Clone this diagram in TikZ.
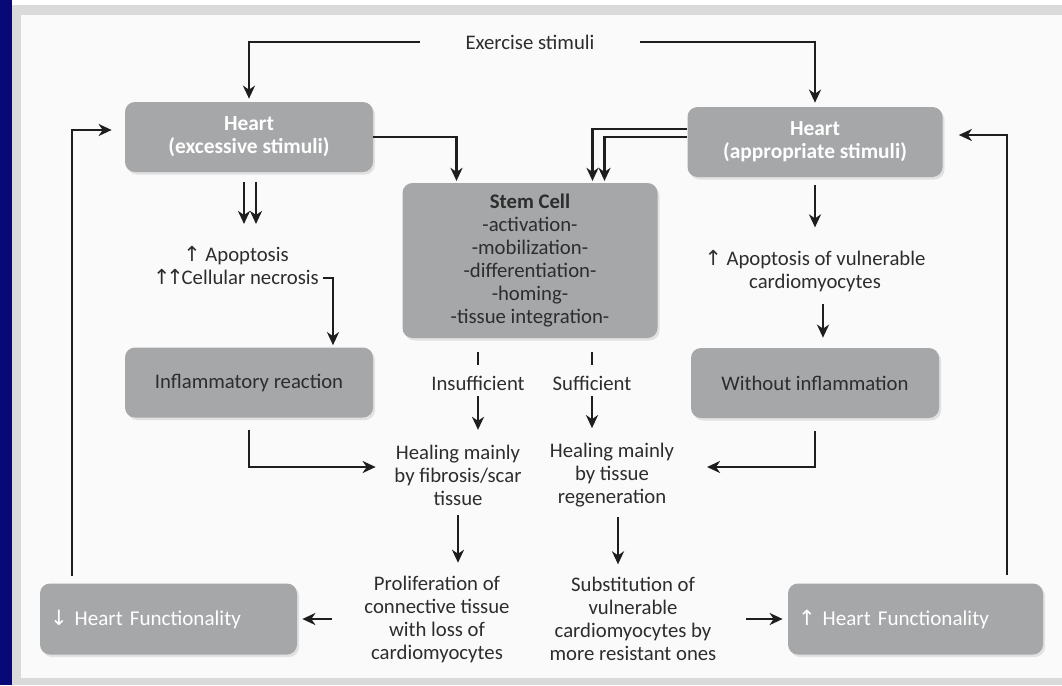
\documentclass[tikz,border=0pt]{standalone}
\usepackage{fontspec}
\setmainfont{Carlito}
\newfontfamily\arrowfont{DejaVu Sans}
\usetikzlibrary{positioning,arrows.meta,shadows}

\definecolor{boxgray}{RGB}{166,167,169}
\definecolor{txtgray}{RGB}{45,45,45}
\definecolor{linegray}{RGB}{30,30,30}
\definecolor{framegray}{RGB}{218,218,218}
\definecolor{panel}{RGB}{250,250,250}
\definecolor{navy}{RGB}{8,8,118}
\newcommand{\arrup}{{\arrowfont ↑}}
\newcommand{\arrdown}{{\arrowfont ↓}}

\begin{document}
\begin{tikzpicture}[shorten >= 1pt, on grid, auto,
    font=\fontsize{11.8}{13.1}\selectfont,
    box/.style={rectangle, rounded corners=0.2cm, fill=boxgray, align=center,
      minimum width=4.96cm, minimum height=1.4cm,
      drop shadow={shadow xshift=0.04cm, shadow yshift=-0.05cm, opacity=0.2}},
    heart/.style={box, text=white, font=\fontsize{12.2}{13.1}\selectfont\bfseries},
    func/.style={box, text=white, align=left, text width=4.7cm, inner xsep=0.2cm,
      minimum height=1.42cm, font=\fontsize{12}{13.1}\selectfont},
    txt/.style={align=center, inner sep=2pt, text=txtgray},
    arr/.style={-{Stealth[length=2.6mm,width=2.4mm,inset=0.8mm]}, line width=1.6pt, linegray},
    tick/.style={line width=1.6pt, linegray},
    hv/.style={to path={-| (\tikztotarget)}},
    vh/.style={to path={|- (\tikztotarget)}}]

      \useasboundingbox (0,0) rectangle (21.24,-13.7);
      \fill[white] (0,0) rectangle (21.24,-13.7);
      \fill[framegray] (0.24,-0.1) rectangle (21.24,-13.7);
      \fill[panel] (0.42,-0.3) rectangle (21.24,-13.56);
      \fill[navy] (0,0) rectangle (0.24,-13.7);

      \node[txt, inner xsep=0.9cm] (0) at (10.6,-0.84) {Exercise stimuli};
      \node[heart] (1) [below left=1.9cm and 5.62cm of 0] {Heart\\(excessive stimuli)};
      \node[heart, minimum width=5.1cm] (2) [below right=2cm and 5.7cm of 0] {Heart\\(appropriate stimuli)};
      \node[box, text=txtgray, minimum width=5.1cm, minimum height=3.1cm] (3) [below=4.37cm of 0]
        {\textbf{Stem Cell}\\-activation-\\-mobilization-\\-differentiation-\\-homing-\\-tissue integration-};
      \node[txt] (4) [below left=2.56cm and 0.26cm of 1] {\arrup\ Apoptosis\\{\arrowfont ↑\kern-0.2em↑}\kern-0.1em Cellular necrosis};
      \node[txt] (5) [below=2.58cm of 2] {\arrup\ Apoptosis of vulnerable\\cardiomyocytes};
      \node[box, text=txtgray] (6) [below=4.91cm of 1] {Inflammatory reaction};
      \node[box, text=txtgray] (7) [below=4.82cm of 2] {Without inflammation};
      \node[txt] (8) [below left=2.45cm and 1.04cm of 3] {Insufficient};
      \node[txt] (9) [below right=2.45cm and 1.24cm of 3] {Sufficient};
      \node[txt] (10) [below left=1.84cm and 0.4cm of 8] {Healing mainly\\by fibrosis/scar\\tissue};
      \node[txt] (11) [below right=1.84cm and 0.4cm of 9] {Healing mainly\\by tissue\\regeneration};
      \node[txt] (12) [below left=2.88cm and 0.42cm of 10] {Proliferation of\\connective tissue\\with loss of\\cardiomyocytes};
      \node[txt] (13) [below right=2.88cm and 0.42cm of 11] {Substitution of\\vulnerable\\cardiomyocytes by\\more resistant ones};
      \node[func, text width=4.74cm] (14) [left=5.37cm of 12] {\arrdown\ Heart Functionality};
      \node[func] (15) [right=5.65cm of 13] {\arrup\ Heart Functionality};

      % feedback loops on both sides
      \coordinate (l) at ([xshift=-1.93cm,yshift=0.14cm]14.north);
      \coordinate (r) at ([xshift=1.83cm,yshift=0.16cm]15.north);

      \path[arr]
        (0.west) edge[hv, shorten >=0.06cm] (1.north)
        (0.east) edge[hv, shorten >=0.08cm] (2.north)
        (1.east) edge[hv] ([xshift=-1.47cm]3.north)
        ([yshift=0.26cm]2.west) edge[hv] ([xshift=1.25cm]3.north)
        ([yshift=0.1cm]2.west) edge[hv] ([xshift=1.49cm]3.north)
        ([xshift=-0.1cm]1.south) edge[shorten <=0.2cm, shorten >=0.36cm] ([xshift=-0.1cm]1.south |- 4.north)
        ([xshift=0.14cm]1.south) edge[shorten <=0.2cm, shorten >=0.36cm] ([xshift=0.14cm]1.south |- 4.north)
        ([yshift=-0.26cm]4.east) edge[hv, shorten >=0.04cm] ([xshift=1.68cm]6.north)
        (2.south) edge[shorten <=0.16cm, shorten >=0.38cm] (2.south |- 5.north)
        ([xshift=0.16cm]5.south) edge[shorten <=0.16cm, shorten >=0.2cm] ([xshift=0.16cm]5.south |- 7.north)
        (8.south) edge[shorten <=0.04cm, shorten >=0.22cm] (8.south |- 10.north)
        (9.south) edge[shorten <=0.04cm, shorten >=0.22cm] (9.south |- 11.north)
        (6.south) edge[vh, shorten <=0.24cm, shorten >=0.3cm] ([yshift=0.16cm]10.west)
        (7.south) edge[vh, shorten <=0.26cm, shorten >=0.58cm] ([yshift=0.16cm]11.east)
        (10.south) edge[shorten <=0.12cm, shorten >=0.18cm] (10.south |- 12.north)
        ([xshift=0.12cm]11.south) edge[shorten <=0.12cm, shorten >=0.18cm] ([xshift=0.12cm]11.south |- 13.north)
        (12.west) edge[shorten <=0.58cm, shorten >=0.1cm] (12.west -| 14.east)
        (13.east) edge[shorten <=0.52cm, shorten >=0.1cm] (13.east -| 15.west)
        (l) edge[vh, shorten >=0.26cm] ([yshift=0.14cm]1.west)
        (r) edge[vh, shorten >=0.32cm] ([yshift=0.14cm]2.east);

      \path[tick]
        (8.north |- 3.south) edge[shorten <=0.28cm, shorten >=0.14cm] (8.north)
        (9.north |- 3.south) edge[shorten <=0.28cm, shorten >=0.14cm] (9.north);
    \end{tikzpicture}
\end{document}
